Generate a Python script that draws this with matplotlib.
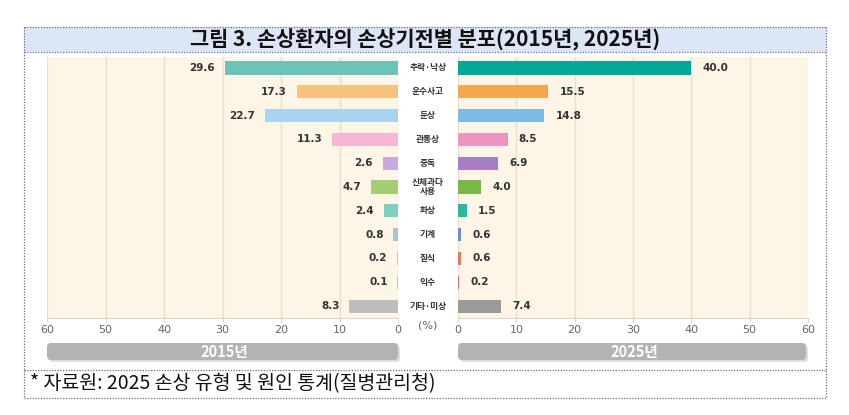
import matplotlib
matplotlib.use("Agg")
import matplotlib.pyplot as plt
from matplotlib.patches import Rectangle, FancyBboxPatch
import matplotlib.transforms as mtransforms

plt.rcParams['font.family'] = ['Noto Sans CJK KR', 'DejaVu Sans']

categories = ['추락·낙상', '운수사고', '둔상', '관통상', '중독', '신체과다\n사용',
              '화상', '기계', '질식', '익수', '기타·미상']
values_2015 = [29.6, 17.3, 22.7, 11.3, 2.6, 4.7, 2.4, 0.8, 0.2, 0.1, 8.3]
values_2025 = [40.0, 15.5, 14.8, 8.5, 6.9, 4.0, 1.5, 0.6, 0.6, 0.2, 7.4]
labels_2015 = ['29.6', '17.3', '22.7', '11.3', '2.6', '4.7', '2.4', '0.8', '0.2', '0.1', '8.3']
labels_2025 = ['40.0', '15.5', '14.8', '8.5', '6.9', '4.0', '1.5', '0.6', '0.6', '0.2', '7.4']
colors_2015 = ['#6cc3b8', '#f8c27e', '#a8d4ef', '#f6b6d4', '#c7a9db', '#a3cf72',
               '#7dd0bb', '#a9c0e3', '#f2b0a3', '#f0b0b0', '#bdbdbd']
colors_2025 = ['#00a896', '#f3a84b', '#7bbde6', '#ee94c0', '#a57fc1', '#7ab648',
               '#2bb89a', '#6f8fce', '#e9775f', '#e07070', '#9a9a9a']
ticks = [0, 10, 20, 30, 40, 50, 60]
title = '그림 3. 손상환자의 손상기전별 분포(2015년, 2025년)'
footnote = '* 자료원: 2025 손상 유형 및 원인 통계(질병관리청)'
years = ['2015년', '2025년']

W, H = 849, 415
fig = plt.figure(figsize=(W / 100, H / 100), dpi=100)
fig.patch.set_facecolor('white')

# background / frame axis in pixel coordinates
bg = fig.add_axes([0, 0, 1, 1])
bg.set_xlim(0, W)
bg.set_ylim(H, 0)
bg.axis('off')

bg.add_patch(Rectangle((24, 27), 802, 25, facecolor='#dde6f6', edgecolor='none'))
dot = dict(color='#6a6f80', linestyle=(0, (1, 1.2)), linewidth=0.9)
for y in (27, 52, 370, 398):
    bg.plot([24, 826], [y, y], **dot)
for x in (24, 826):
    bg.plot([x, x], [27, 398], **dot)

bg.text(425, 39.5, title, ha='center', va='center', fontsize=15,
        fontweight='bold', color='#111111')
bg.text(30, 384, footnote, ha='left', va='center', fontsize=14, color='#111111')

# banners
for (x0, x1), lab in zip([(47, 402), (458, 810)], years):
    bg.add_patch(FancyBboxPatch((x0 + 2, 345), x1 - x0 - 4, 17,
                                boxstyle='round,pad=0,rounding_size=4',
                                facecolor='#d0d0d0', edgecolor='none', alpha=0.7))
    bg.add_patch(FancyBboxPatch((x0, 343), x1 - x0 - 4, 17,
                                boxstyle='round,pad=0,rounding_size=4',
                                facecolor='#b3b3b3', edgecolor='none'))
    bg.text((x0 + x1) / 2, 352, lab, ha='center', va='center', fontsize=10.5,
            fontweight='bold', color='white')

bottom = 1 - 318 / H
height = (318 - 57) / H
axL = fig.add_axes([47 / W, bottom, 351 / W, height])
axR = fig.add_axes([458 / W, bottom, 350 / W, height])

ypos = list(range(len(categories)))
for ax, vals, cols, labs, side in [(axL, values_2015, colors_2015, labels_2015, 'L'),
                                   (axR, values_2025, colors_2025, labels_2025, 'R')]:
    ax.set_facecolor('#fdf6e6')
    ax.set_ylim(10.5, -0.46)
    if side == 'L':
        ax.set_xlim(60, 0)
    else:
        ax.set_xlim(0, 60)
    ax.set_xticks(ticks)
    ax.set_xticklabels([str(t) for t in ticks], fontsize=8, color='#666666',
                       family=['DejaVu Sans'])
    ax.set_yticks([])
    ax.xaxis.grid(True, color='#e8dfcd', linewidth=1)
    ax.set_axisbelow(True)
    for s in ('top', 'left', 'right'):
        ax.spines[s].set_visible(False)
    ax.spines['bottom'].set_color('#ddd5c5')
    ax.tick_params(axis='x', length=3, color='#e0d8c8', pad=2)
    ax.barh(ypos, vals, height=0.55, color=cols, zorder=3)
    for y, v, t in zip(ypos, vals, labs):
        off = -7 if side == 'L' else 8
        ax.annotate(t, xy=(v, y), xytext=(off, 0), textcoords='offset points',
                    ha='right' if side == 'L' else 'left', va='center',
                    fontsize=7.5, fontweight='bold', color='#333333',
                    family=['DejaVu Sans'])

tr = mtransforms.blended_transform_factory(bg.transData, axL.transData)
for y, c in zip(ypos, categories):
    fig.text(428, y, c, transform=tr, ha='center', va='center', fontsize=6.3,
             fontweight='bold', color='#333333', linespacing=1.0)

bg.text(428, 325, '(%)', ha='center', va='center', fontsize=8, color='#666666',
        family=['DejaVu Sans'])

fig.savefig('out.png', dpi=100)
